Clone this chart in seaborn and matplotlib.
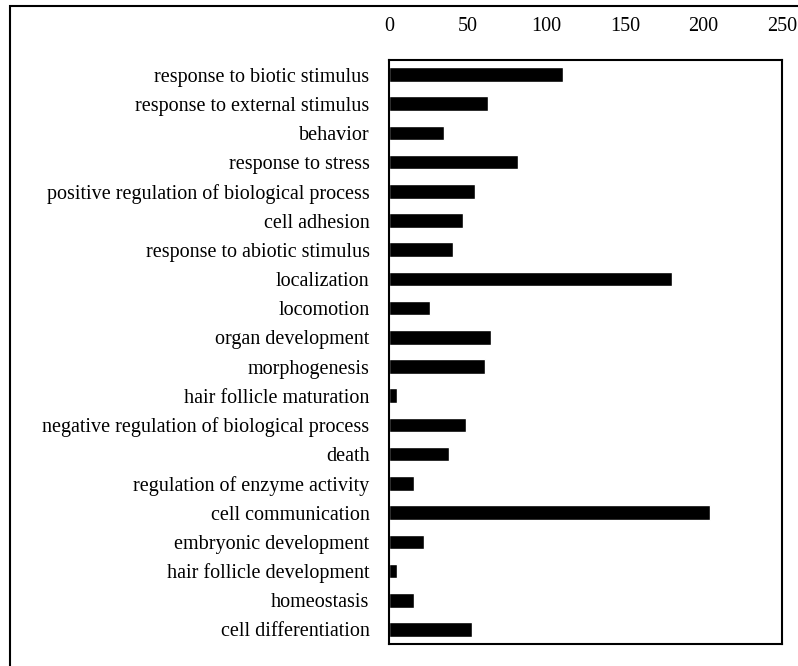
import matplotlib
matplotlib.use("Agg")
import matplotlib.pyplot as plt
from matplotlib.patches import Rectangle
import seaborn as sns
import pandas as pd
import numpy as np

sns.set_style("white")
plt.rcParams['font.family'] = ['Liberation Serif', 'DejaVu Serif']
plt.rcParams['text.color'] = 'black'
plt.rcParams['xtick.color'] = 'black'
plt.rcParams['ytick.color'] = 'black'

# GO biological process categories (top to bottom) and gene counts
categories = [
    'response to biotic stimulus',
    'response to external stimulus',
    'behavior',
    'response to stress',
    'positive regulation of biological process',
    'cell adhesion',
    'response to abiotic stimulus',
    'localization',
    'locomotion',
    'organ development',
    'morphogenesis',
    'hair follicle maturation',
    'negative regulation of biological process',
    'death',
    'regulation of enzyme activity',
    'cell communication',
    'embryonic development',
    'hair follicle development',
    'homeostasis',
    'cell differentiation',
]
counts = [111, 63, 35, 82, 55, 47, 41, 180, 26, 65,
          61, 5, 49, 38, 16, 204, 22, 5, 16, 53]
x_ticks = [0, 50, 100, 150, 200, 250]

df = pd.DataFrame({'category': categories, 'count': counts})

fig = plt.figure(figsize=(7.98, 6.66), dpi=100)
ax = fig.add_axes([389 / 798, 22 / 666, 393 / 798, 584 / 666])

sns.barplot(data=df, y='category', x='count', color='black',
            width=0.5, orient='h', ax=ax, saturation=1)

ax.set_xlim(0, 250)
ax.set_ylim(len(categories) - 0.5, -0.5)
ax.set_xticks(x_ticks)
ax.xaxis.tick_top()
ax.tick_params(axis='x', length=0, pad=17, labelsize=14.5)
ax.tick_params(axis='y', which='major', length=0, pad=14, labelsize=14.5)
ax.set_yticks(np.arange(0.5, len(categories) - 0.5), minor=True)
ax.tick_params(axis='y', which='minor', direction='in', length=4,
               width=1, color='black')
ax.set_xlabel('')
ax.set_ylabel('')

for spine in ax.spines.values():
    spine.set_visible(True)
    spine.set_color('black')
    spine.set_linewidth(1.5)

# outer frame of the original figure (cropped at right and bottom)
fig.patches.append(Rectangle((9.5 / 798, -0.2), 1.5, 1 - 6 / 666 + 0.2,
                             transform=fig.transFigure, fill=False,
                             edgecolor='black', linewidth=1.5))

fig.savefig('out.png', dpi=100)
